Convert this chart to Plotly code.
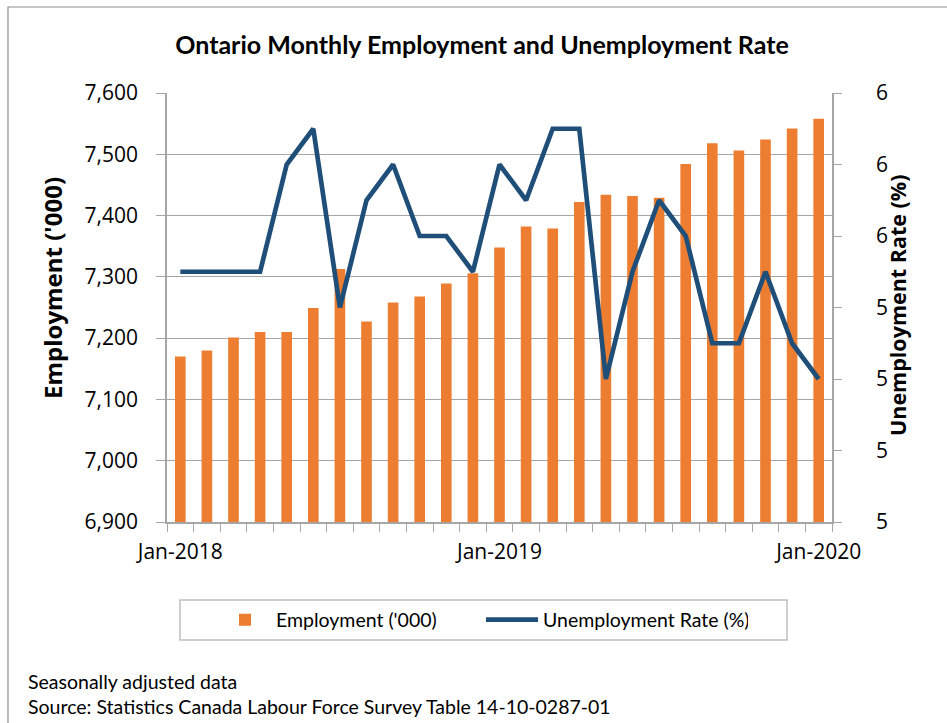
import plotly.graph_objects as go

months = ["Jan-2018", "Feb-2018", "Mar-2018", "Apr-2018", "May-2018", "Jun-2018",
          "Jul-2018", "Aug-2018", "Sep-2018", "Oct-2018", "Nov-2018", "Dec-2018",
          "Jan-2019", "Feb-2019", "Mar-2019", "Apr-2019", "May-2019", "Jun-2019",
          "Jul-2019", "Aug-2019", "Sep-2019", "Oct-2019", "Nov-2019", "Dec-2019",
          "Jan-2020"]
employment = [7170, 7180, 7201, 7210, 7210, 7249, 7313, 7227, 7258, 7268, 7289, 7306,
              7348, 7382, 7379, 7422, 7434, 7432, 7429, 7484, 7518, 7506, 7524, 7542,
              7558]
unemployment = [5.5, 5.5, 5.5, 5.5, 5.8, 5.9, 5.4, 5.7, 5.8, 5.6, 5.6, 5.5,
                5.8, 5.7, 5.9, 5.9, 5.2, 5.5, 5.7, 5.6, 5.3, 5.3, 5.5, 5.3,
                5.2]
tick_labels = [m if m.startswith("Jan") else "" for m in months]

W, H = 947, 723
L, R, T, B = 167, 115, 93, 201
pw, ph = W - L - R, H - T - B

def px(x):
    return (x - L) / pw

def py(y):
    return (H - B - y) / ph

GRID = "#A6A6A6"
TICKFONT = dict(family="Open Sans", size=21, color="#000000")

fig = go.Figure()
fig.add_trace(go.Bar(
    x=months, y=employment, name="Employment ('000)",
    marker=dict(color="#ED7D31", line=dict(width=0)), width=0.4, yaxis="y",
))
fig.add_trace(go.Scatter(
    x=months, y=unemployment, name="Unemployment Rate (%)", mode="lines",
    line=dict(color="#1F4E79", width=4.7), yaxis="y2",
))

fig.update_layout(
    width=W, height=H, autosize=False,
    margin=dict(l=L, r=R, t=T, b=B),
    paper_bgcolor="white", plot_bgcolor="white",
    title=dict(text="<b>Ontario Monthly Employment and Unemployment Rate</b>",
               font=dict(family="Lato", size=25, color="#000000"),
               xref="container", yref="container", x=482 / W, xanchor="center",
               y=1 - 45 / H, yanchor="middle"),
    xaxis=dict(
        type="category", tickmode="array", tickvals=months, ticktext=tick_labels,
        tickson="boundaries", ticks="outside", ticklen=8, tickcolor=GRID,
        showline=True, linecolor=GRID, linewidth=1.5, showgrid=False,
        tickfont=TICKFONT, range=[-0.5, len(months) - 0.5], tickangle=0,
        ticklabelstandoff=10, automargin=False,
    ),
    yaxis=dict(
        range=[6900, 7600], dtick=100, tick0=6900, tickformat=",",
        showgrid=True, gridcolor=GRID, gridwidth=1.2, zeroline=False,
        showline=True, linecolor=GRID, linewidth=1.5,
        ticks="outside", ticklen=9, tickcolor=GRID, tickfont=TICKFONT,
        ticklabelstandoff=14, automargin=False,
    ),
    yaxis2=dict(
        overlaying="y", side="right", range=[4.8, 6.0], dtick=0.2, tick0=4.8,
        tickformat=".0f", showgrid=False, zeroline=False,
        showline=True, linecolor=GRID, linewidth=1.5,
        ticks="outside", ticklen=8, tickcolor=GRID, tickfont=TICKFONT,
        ticklabelstandoff=30, automargin=False,
    ),
    legend=dict(
        orientation="h", xref="paper", yref="paper",
        x=px(214), xanchor="left", y=py(620), yanchor="middle",
        borderwidth=0, bgcolor="rgba(0,0,0,0)",
        font=dict(family="Lato", size=19.5, color="#000000"),
        itemwidth=52, entrywidth=200, tracegroupgap=0,
    ),
    showlegend=True,
)

# axis titles
fig.add_annotation(text="<b>Employment ('000)</b>", xref="paper", yref="paper",
                   x=px(52), y=py(288), textangle=-90, showarrow=False,
                   xanchor="center", yanchor="middle",
                   font=dict(family="Open Sans", size=24, color="#000000"))
fig.add_annotation(text="<b>Unemployment Rate (%)</b>", xref="paper", yref="paper",
                   x=px(897), y=py(305), textangle=-90, showarrow=False,
                   xanchor="center", yanchor="middle",
                   font=dict(family="Open Sans", size=21.5, color="#000000"))

# outer chart frame
fig.add_shape(type="rect", xref="paper", yref="paper",
              x0=px(8), x1=px(960), y0=py(740), y1=py(7),
              line=dict(color="#8C8C8C", width=1.2), fillcolor="rgba(0,0,0,0)",
              layer="below")
# legend frame
fig.add_shape(type="rect", xref="paper", yref="paper",
              x0=px(180), x1=px(787), y0=py(640), y1=py(600),
              line=dict(color="#BFBFBF", width=1.5), fillcolor="rgba(0,0,0,0)",
              layer="below")

foot = dict(family="Lato", size=19.5, color="#000000")
fig.add_annotation(text="Seasonally adjusted data", xref="paper", yref="paper",
                   x=px(26), y=py(681), xanchor="left", yanchor="middle",
                   showarrow=False, font=foot)
fig.add_annotation(text="Source: Statistics Canada Labour Force Survey Table 14-10-0287-01",
                   xref="paper", yref="paper",
                   x=px(26), y=py(706), xanchor="left", yanchor="middle",
                   showarrow=False, font=foot)

fig.write_html("out.html", config={"displayModeBar": False},
               post_script="document.body.style.margin='0px';document.body.style.overflow='hidden';")
